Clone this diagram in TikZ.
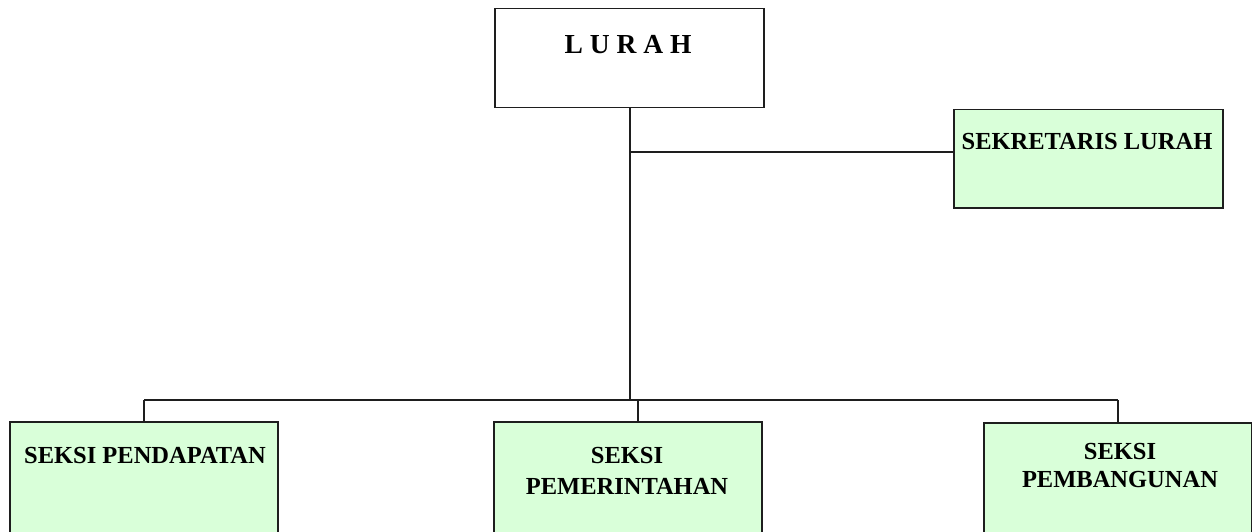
\documentclass[tikz,border=0pt]{standalone}
\usepackage{fontspec}
\setmainfont{Liberation Serif}
\definecolor{boxgreen}{RGB}{217,255,217}
\definecolor{linegray}{RGB}{30,30,30}
\begin{document}
\begin{tikzpicture}[x=1pt,y=-1pt,
  orgbox/.style={draw=linegray,line width=1.5pt,inner sep=0pt,anchor=north west},
  greenbox/.style={orgbox,fill=boxgreen},
  lbl/.style={font=\bfseries\fontsize{24.5}{29}\selectfont,inner sep=0pt,anchor=north,align=center},
  conn/.style={draw=linegray,line width=1.5pt}]
\useasboundingbox (0,0) rectangle (1252,532);
\clip (0,0) rectangle (1252,532);
% boxes
\node[orgbox,minimum width=269pt,minimum height=99pt] (lurah) at (494,8) {};
\node[greenbox,minimum width=269pt,minimum height=98pt] (sek) at (953,109) {};
\node[greenbox,minimum width=268pt,minimum height=140pt] (pend) at (9,421) {};
\node[greenbox,minimum width=268pt,minimum height=140pt] (pem) at (493,421) {};
\node[greenbox,minimum width=268pt,minimum height=140pt] (bang) at (983,422) {};
% labels
\node[lbl,font=\bfseries\fontsize{27.5}{32}\selectfont] (tlurah) at (628,35) {L U R A H};
\node[lbl] (tsek) at (1087,133) {SEKRETARIS LURAH};
\node[lbl] (tpend) at (145,447) {SEKSI PENDAPATAN};
\node[lbl,font=\bfseries\fontsize{24.5}{31}\selectfont] (tpem) at (627,447) {SEKSI\\PEMERINTAHAN};
\node[lbl,font=\bfseries\fontsize{24.5}{28}\selectfont] (tbang) at (1120,443) {SEKSI\\PEMBANGUNAN};
% connectors
\coordinate (trunk) at (630,400);
\coordinate (sj) at (630,152);
\coordinate (hl) at (144,400);
\coordinate (hm) at (638,400);
\coordinate (hr) at (1118,400);
\draw[conn] (lurah.south -| trunk) -- (trunk);
\draw[conn] (sj) -- (sek.west |- sj);
\draw[conn] (hl) -- (hr);
\draw[conn] (hl) -- (pend.north -| hl);
\draw[conn] (hm) -- (pem.north -| hm);
\draw[conn] (hr) -- (bang.north -| hr);
\end{tikzpicture}
\end{document}
